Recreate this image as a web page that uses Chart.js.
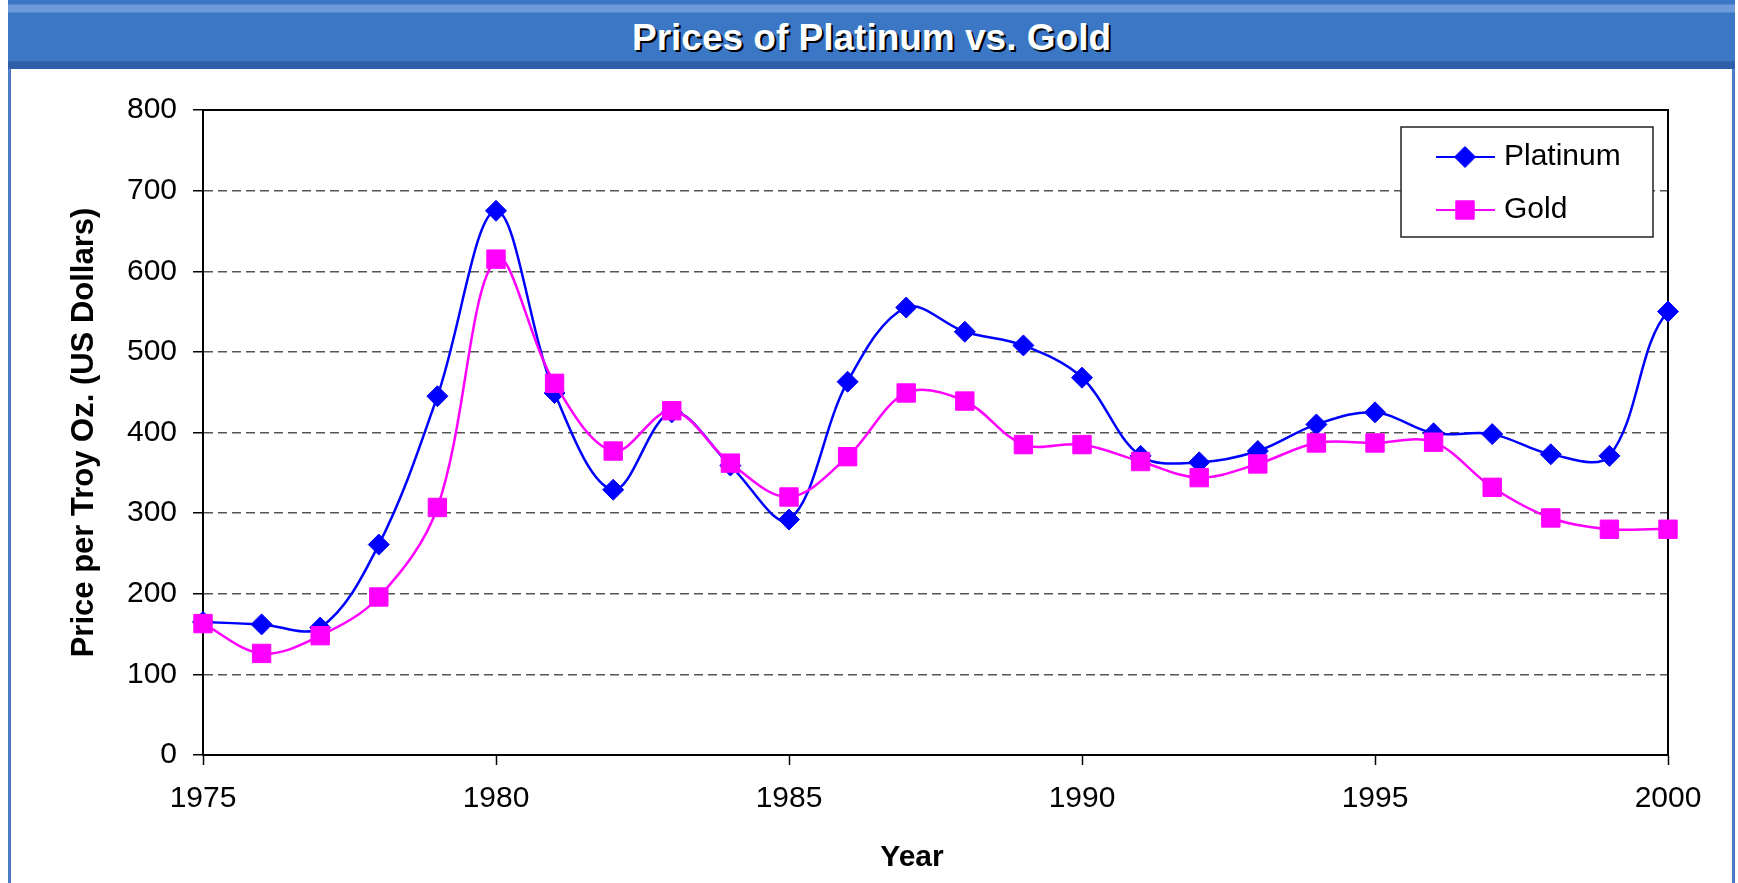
<!DOCTYPE html>
<html>
<head>
<meta charset="utf-8">
<script src="https://cdn.jsdelivr.net/npm/chart.js@4.4.1/dist/chart.umd.min.js"></script>
<style>
  html, body { margin: 0; padding: 0; background: #fff; }
  body { width: 1738px; height: 883px; position: relative; overflow: hidden; }
  #frame {
    position: absolute; left: 8px; top: 0; width: 1721px; height: 900px;
    border-left: 3px solid #4a7dc6; border-right: 3px solid #4a7dc6;
  }
  #header {
    position: absolute; left: 8px; top: 0; width: 1727px; height: 69px;
    background: linear-gradient(to bottom, #3b77c5 0px, #3b77c5 4px, #6d9cd8 5px, #6d9cd8 12px,
      #3b77c5 13px, #3b77c5 61px, #2f5fa8 62px, #2f5fa8 69px);
    color: #fff; font: bold 37px "Liberation Sans", Arial, sans-serif;
    text-align: center; line-height: 75px; height: 69px;
    text-shadow: 2px 2px 0 #000;
  }
  #chart { position: absolute; left: 0; top: 0; }
</style>
</head>
<body>
<div id="frame"></div>
<div id="header">Prices of Platinum vs. Gold</div>
<canvas id="chart" width="1738" height="883"></canvas>
<script>
// values (US$ per troy oz.)
const years = [1975, 1976, 1977, 1978, 1979, 1980, 1981, 1982, 1983, 1984, 1985, 1986, 1987,
  1988, 1989, 1990, 1991, 1992, 1993, 1994, 1995, 1996, 1997, 1998, 1999, 2000, 2001];
const platinum = [165, 162, 158, 261, 445, 675, 449, 329, 425, 359, 292, 463, 555,
  525, 508, 468, 371, 363, 377, 410, 425, 399, 398, 373, 371, 550, 530];
const gold = [163, 126, 148, 196, 307, 615, 461, 377, 427, 362, 320, 370, 449,
  439, 385, 385, 364, 344, 361, 387, 387, 388, 332, 294, 280, 280, 271];
const yTicks = [0, 100, 200, 300, 400, 500, 600, 700, 800];
const xTicks = [1975, 1980, 1985, 1990, 1995, 2000];
const xTitle = 'Year';
const yTitle = 'Price per Troy Oz. (US Dollars)';

const FONT = '"Liberation Sans", Arial, sans-serif';
Chart.defaults.font.family = FONT;
Chart.defaults.color = '#000';

function toPoints(vals) {
  return years.map((yr, i) => ({ x: yr, y: vals[i] }));
}

// black box around the plot area
const plotFrame = {
  id: 'plotFrame',
  beforeDatasetsDraw(chart) {
    const { ctx, chartArea: a } = chart;
    ctx.save();
    ctx.strokeStyle = '#000';
    ctx.lineWidth = 2;
    ctx.strokeRect(a.left, a.top, a.right - a.left, a.bottom - a.top);
    ctx.restore();
  }
};

// x axis title sits a bit left of centre in the original
const xAxisTitle = {
  id: 'xAxisTitle',
  afterDraw(chart) {
    const { ctx, chartArea: a } = chart;
    ctx.save();
    ctx.font = 'bold 30px ' + FONT;
    ctx.fillStyle = '#000';
    ctx.textAlign = 'center';
    ctx.textBaseline = 'middle';
    ctx.fillText(xTitle, a.left + 709, a.bottom + 103);
    ctx.restore();
  }
};

// Excel style legend box inside the plot
const boxLegend = {
  id: 'boxLegend',
  afterDraw(chart) {
    const { ctx, chartArea: a } = chart;
    const left = a.right - 267, top = a.top + 17, w = 252, h = 110;
    ctx.save();
    ctx.fillStyle = '#fff';
    ctx.fillRect(left, top, w, h);
    ctx.strokeStyle = '#222';
    ctx.lineWidth = 1.5;
    ctx.strokeRect(left, top, w, h);
    const rows = [0, 1].map(i => chart.data.datasets.find(d => d.legendIndex === i));
    rows.forEach((ds, i) => {
      const y = top + 30 + i * 53;
      ctx.strokeStyle = ds.borderColor;
      ctx.lineWidth = 2;
      ctx.beginPath();
      ctx.moveTo(left + 35, y);
      ctx.lineTo(left + 94, y);
      ctx.stroke();
      ctx.fillStyle = ds.backgroundColor;
      ctx.lineWidth = 1;
      Chart.helpers.drawPoint(ctx, {
        pointStyle: ds.pointStyle, radius: ds.pointRadius, borderWidth: 1, rotation: 0
      }, left + 64, y);
      ctx.fillStyle = '#000';
      ctx.font = '30px ' + FONT;
      ctx.textAlign = 'left';
      ctx.textBaseline = 'middle';
      ctx.fillText(ds.label, left + 103, y);
    });
    ctx.restore();
  }
};

new Chart(document.getElementById('chart'), {
  type: 'line',
  data: {
    datasets: [{
      label: 'Platinum',
      legendIndex: 0,
      data: toPoints(platinum),
      borderColor: '#0000ff',
      backgroundColor: '#0000ff',
      borderWidth: 2.5,
      pointStyle: 'rectRot',
      pointRadius: 10.5,
      pointBorderWidth: 1,
      tension: 0.35,
      order: 1,
      clip: { left: 16, top: 16, right: 13, bottom: 16 }
    }, {
      label: 'Gold',
      legendIndex: 1,
      data: toPoints(gold),
      borderColor: '#ff00ff',
      backgroundColor: '#ff00ff',
      borderWidth: 2.5,
      pointStyle: 'rect',
      pointRadius: 13,
      pointBorderWidth: 1,
      tension: 0.35,
      order: 0,
      clip: { left: 16, top: 16, right: 13, bottom: 16 }
    }]
  },
  options: {
    responsive: false,
    animation: false,
    devicePixelRatio: 1,
    layout: { padding: { left: 0, top: 110, right: 70, bottom: 0 } },
    plugins: { legend: { display: false }, tooltip: { enabled: false } },
    scales: {
      x: {
        type: 'linear',
        min: xTicks[0],
        max: xTicks[xTicks.length - 1],
        afterFit(s) { s.height = 128; },
        afterBuildTicks(s) { s.ticks = xTicks.map(v => ({ value: v })); },
        ticks: { font: { size: 30 }, padding: 16, maxRotation: 0, callback: v => String(v) },
        grid: { drawOnChartArea: false, drawTicks: true, tickLength: 10, tickColor: '#000', tickWidth: 1.5 },
        border: { color: '#000', width: 2 }
      },
      y: {
        min: yTicks[0],
        max: yTicks[yTicks.length - 1],
        afterFit(s) { s.width = 203; },
        afterBuildTicks(s) { s.ticks = yTicks.map(v => ({ value: v })); },
        ticks: { font: { size: 30 }, padding: 16, callback: v => String(v) },
        grid: { color: '#555', lineWidth: 1.5, drawTicks: true, tickLength: 10, tickColor: '#000', tickWidth: 1.5 },
        border: { color: '#000', width: 2, dash: [9, 5] },
        title: { display: true, text: yTitle, font: { size: 31, weight: 'bold' }, padding: { top: 66, bottom: 0 } }
      }
    }
  },
  plugins: [plotFrame, xAxisTitle, boxLegend]
});
</script>
</body>
</html>
